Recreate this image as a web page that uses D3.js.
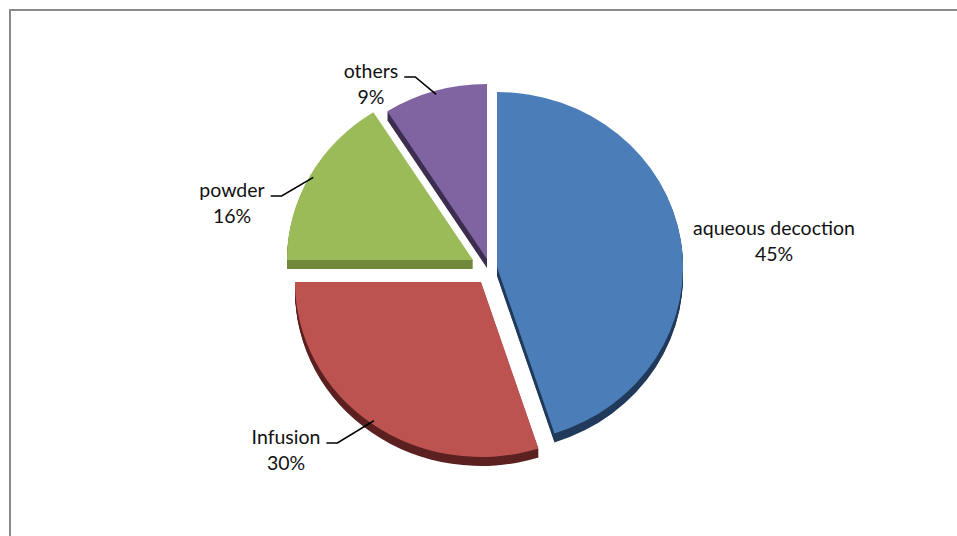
<!DOCTYPE html>
<html>
<head>
<meta charset="utf-8">
<script src="https://cdn.jsdelivr.net/npm/d3@7"></script>
<style>
  html, body { margin: 0; padding: 0; background: #fff; }
  svg { display: block; }
  text { font-family: Lato, "Liberation Sans", sans-serif; font-size: 19.5px; fill: #111; }
</style>
</head>
<body>
<script>
// ---- data ----
const categories = ["aqueous decoction", "Infusion", "powder", "others"];
const values = [45, 30, 16, 9];
const percentLabels = ["45%", "30%", "16%", "9%"];

// ---- styles / layout ----
const topColors  = ["#4b7db8", "#bc5350", "#9bbb59", "#8064a2"];
const sideColors = ["#223b5c", "#5c2120", "#71893b", "#3d2e50"];
const explode = [[12, -3], [-4, 12], [-12, -10], [2, -11]];
const labelPos = [[774, 235], [286, 444], [232, 197], [371, 78]];
const hasLeader = [false, true, true, true];
const drawOrder = [3, 2, 0, 1];

const W = 957, H = 536;
const cx = 485, cy = 270, R = 186, sy = 175 / 186, depth = 9;

const svg = d3.select("body").append("svg").attr("width", W).attr("height", H);

svg.append("rect")
  .attr("x", 10).attr("y", 10).attr("width", W + 20).attr("height", H + 20)
  .attr("fill", "#fff").attr("stroke", "#8a8a8a").attr("stroke-width", 2);

const arcs = d3.pie().sort(null).value(d => d)(values);
const arc = d3.arc().innerRadius(0).outerRadius(R);

const pieG = svg.append("g");
drawOrder.forEach(i => {
  const a = arcs[i];
  const [ox, oy] = explode[i];
  const g = pieG.append("g");
  for (let k = depth; k >= 1; k--) {
    g.append("path")
      .attr("d", arc(a))
      .attr("transform", `translate(${cx + ox},${cy + oy + k}) scale(1,${sy})`)
      .attr("fill", sideColors[i]);
  }
  g.append("path")
    .attr("d", arc(a))
    .attr("transform", `translate(${cx + ox},${cy + oy}) scale(1,${sy})`)
    .attr("fill", topColors[i]);
});

// labels + leader lines
const labG = svg.append("g");
categories.forEach((c, i) => {
  const [lx, ly] = labelPos[i];
  const t1 = labG.append("text").attr("x", lx).attr("y", ly).attr("text-anchor", "middle").text(c);
  labG.append("text").attr("x", lx).attr("y", ly + 26).attr("text-anchor", "middle").text(percentLabels[i]);
  if (hasLeader[i]) {
    const w = t1.node().getComputedTextLength();
    const a = arcs[i];
    const m = (a.startAngle + a.endAngle) / 2;
    const [ox, oy] = explode[i];
    const ex = cx + ox + R * 0.98 * Math.sin(m);
    const ey = cy + oy - R * 0.98 * sy * Math.cos(m);
    const sx = lx + w / 2 + 6, syy = ly - 1;
    labG.append("path")
      .attr("d", d3.line()([[sx, syy], [sx + 11, syy], [ex, ey]]))
      .attr("fill", "none").attr("stroke", "#000").attr("stroke-width", 1.6);
  }
});
</script>
</body>
</html>
